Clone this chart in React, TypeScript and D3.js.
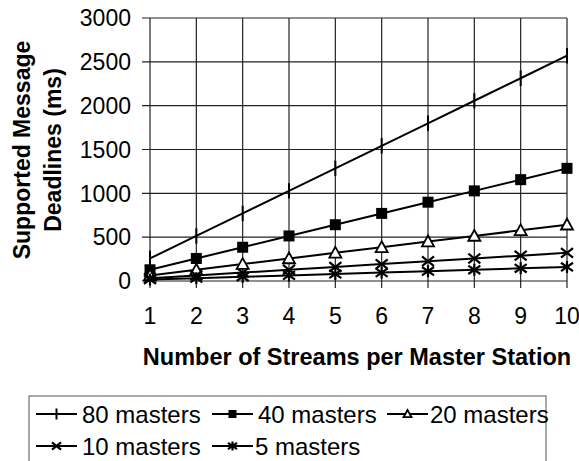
import React from "react";
import * as d3 from "d3";

const streams = [1, 2, 3, 4, 5, 6, 7, 8, 9, 10];
const masters80 = [257, 514, 771, 1028, 1285, 1542, 1799, 2056, 2313, 2570];
const masters40 = [128, 257, 385, 514, 642, 771, 899, 1028, 1156, 1285];
const masters20 = [64, 128, 193, 257, 321, 385, 450, 514, 578, 642];
const masters10 = [32, 64, 96, 128, 160, 193, 225, 257, 289, 321];
const masters5 = [16, 32, 48, 64, 80, 96, 112, 128, 145, 160];
const yTicks = [0, 500, 1000, 1500, 2000, 2500, 3000];
const seriesNames = ["80 masters", "40 masters", "20 masters", "10 masters", "5 masters"];
const seriesMarkers = ["vbar", "square", "triangle", "cross", "asterisk"];
const seriesValues = [masters80, masters40, masters20, masters10, masters5];

const FONT = "'Liberation Sans', Arial, Helvetica, sans-serif";

function Marker({ kind, x, y, s }: { kind: string; x: number; y: number; s: number }) {
  const h = s / 2;
  if (kind === "vbar") {
    return <line x1={x} x2={x} y1={y - h * 1.1} y2={y + h * 1.1} stroke="#000" strokeWidth={2} />;
  }
  if (kind === "square") {
    return <rect x={x - h} y={y - h} width={s} height={s} fill="#000" />;
  }
  if (kind === "triangle") {
    const p = `${x},${y - h} ${x + h},${y + h * 0.8} ${x - h},${y + h * 0.8}`;
    return <polygon points={p} fill="#fff" stroke="#000" strokeWidth={1.8} />;
  }
  if (kind === "cross") {
    return (
      <g stroke="#000" strokeWidth={2.2}>
        <line x1={x - h} y1={y - h * 0.8} x2={x + h} y2={y + h * 0.8} />
        <line x1={x - h} y1={y + h * 0.8} x2={x + h} y2={y - h * 0.8} />
      </g>
    );
  }
  return (
    <g stroke="#000" strokeWidth={2.2}>
      <line x1={x - h} y1={y - h * 0.7} x2={x + h} y2={y + h * 0.7} />
      <line x1={x - h} y1={y + h * 0.7} x2={x + h} y2={y - h * 0.7} />
      <line x1={x} y1={y - h} x2={x} y2={y + h} />
    </g>
  );
}

export default function App() {
  const W = 579, H = 461;
  const left = 150, right = 567, top = 18, bottom = 281;
  const x = d3.scaleLinear().domain([1, 10]).range([left, right]);
  const y = d3.scaleLinear().domain([0, 3000]).range([bottom, top]);
  const line = d3.line<number>().x((_, i) => x(streams[i])).y((d) => y(d));
  const markerSize = [14, 11, 12, 12, 12];

  const legendItems = [
    { row: 0, lx: 36, tx: 82 },
    { row: 0, lx: 212, tx: 258 },
    { row: 0, lx: 387, tx: 430 },
    { row: 1, lx: 36, tx: 82 },
    { row: 1, lx: 212, tx: 255 },
  ];
  const legendMarkerSize = [10, 8, 8, 9, 9];

  return (
    <svg width={W} height={H} style={{ position: "absolute", left: 0, top: 0, background: "#fff" }} fontFamily={FONT}>
      <rect width={W} height={H} fill="#fff" />
      {yTicks.map((t) => (
        <line key={"h" + t} x1={left - 8} x2={right} y1={y(t)} y2={y(t)} stroke="#222" strokeWidth={1.2} />
      ))}
      {streams.map((s) => (
        <line key={"v" + s} x1={x(s)} x2={x(s)} y1={top} y2={bottom + 7} stroke="#222" strokeWidth={1.2} />
      ))}
      {yTicks.map((t) => (
        <text key={"yl" + t} x={131} y={y(t)} dy="0.36em" textAnchor="end" fontSize={23} fill="#000">
          {t}
        </text>
      ))}
      {streams.map((s) => (
        <text key={"xl" + s} x={x(s)} y={324} textAnchor="middle" fontSize={23} fill="#000">
          {s}
        </text>
      ))}
      {seriesValues.map((vals, si) => (
        <g key={"s" + si}>
          <path d={line(vals) || ""} fill="none" stroke="#000" strokeWidth={2} />
          {vals.map((v, i) => (
            <Marker key={i} kind={seriesMarkers[si]} x={x(streams[i])} y={y(v)} s={markerSize[si]} />
          ))}
        </g>
      ))}
      <text x={357} y={365} textAnchor="middle" fontSize={23.5} fontWeight="bold" fill="#000">
        Number of Streams per Master Station
      </text>
      <g transform="translate(0,150) rotate(-90)">
        <text x={0} y={30} textAnchor="middle" fontSize={23} fontWeight="bold" fill="#000">
          Supported Message
        </text>
        <text x={0} y={61} textAnchor="middle" fontSize={23} fontWeight="bold" fill="#000">
          Deadlines (ms)
        </text>
      </g>
      <rect x={29} y={396} width={517} height={80} fill="#fff" stroke="#555" strokeWidth={1} />
      {legendItems.map((it, i) => {
        const cy = it.row === 0 ? 414 : 446;
        return (
          <g key={"lg" + i}>
            <line x1={it.lx} x2={it.lx + 41} y1={cy} y2={cy} stroke="#000" strokeWidth={2} />
            <Marker kind={seriesMarkers[i]} x={it.lx + 20.5} y={cy} s={legendMarkerSize[i]} />
            <text x={it.tx} y={cy} dy="0.36em" fontSize={24} fill="#000">
              {seriesNames[i]}
            </text>
          </g>
        );
      })}
    </svg>
  );
}
